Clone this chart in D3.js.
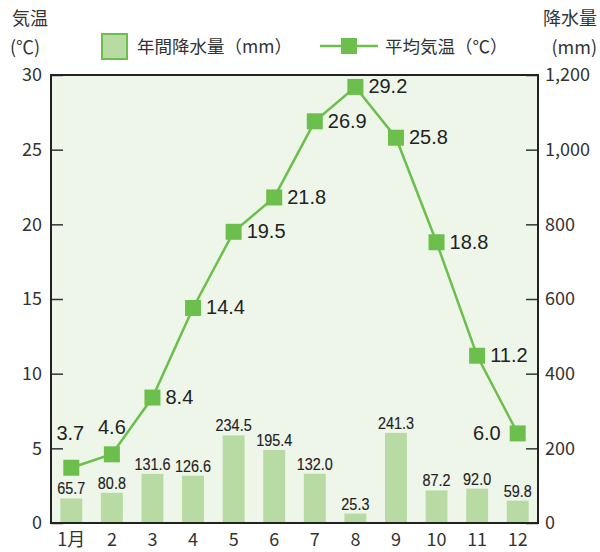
<!DOCTYPE html>
<html><head><meta charset="utf-8">
<script src="https://cdn.jsdelivr.net/npm/d3@7"></script>
<style>body{margin:0;background:#fff}svg{display:block}</style>
</head><body><svg id="c" width="600" height="552"></svg>
<script>
const months = ["1月","2","3","4","5","6","7","8","9","10","11","12"];
const precip = [65.7,80.8,131.6,126.6,234.5,195.4,132.0,25.3,241.3,87.2,92.0,59.8];
const temp = [3.7,4.6,8.4,14.4,19.5,21.8,26.9,29.2,25.8,18.8,11.2,6.0];
const tempTicks = [0,5,10,15,20,25,30];
const precipTicks = [0,200,400,600,800,1000,1200];

const svg = d3.select("#c");
const F = "'Noto Sans CJK JP', 'Noto Sans', sans-serif";
const FN = "'Liberation Sans', Arial, sans-serif";
const L = 51, R = 538, T = 75, B = 523;
const x = d3.scaleBand().domain(months).range([L, R]).paddingInner(0.46).paddingOuter(0.23);
const xc = d3.scalePoint().domain(months).range([L, R]).padding(0.5);
const yT = d3.scaleLinear().domain([0,30]).range([B, T]);
const yP = d3.scaleLinear().domain([0,1200]).range([B, T]);

svg.append("rect").attr("x",L).attr("y",T).attr("width",R-L).attr("height",B-T).attr("fill","#eef6ea");

// bars
svg.selectAll(".bar").data(precip).enter().append("rect")
  .attr("x",(d,i)=>x(months[i])).attr("width",x.bandwidth())
  .attr("y",d=>yP(d)).attr("height",d=>B-yP(d)).attr("fill","#b7dba3");
svg.selectAll(".bl").data(precip).enter().append("text")
  .attr("transform",(d,i)=>`translate(${xc(months[i])},${yP(d)-4}) scale(0.9,1)`)
  .attr("text-anchor","middle").attr("font-family",FN).attr("font-size",16)
  .attr("fill","#222").attr("stroke","#222").attr("stroke-width",0.15).text(d=>d.toFixed(1));

// axes
const gl = svg.append("g").attr("transform",`translate(${L},0)`)
  .call(d3.axisRight(yT).tickValues(tempTicks).tickSize(12).tickFormat(""));
const gr = svg.append("g").attr("transform",`translate(${R},0)`)
  .call(d3.axisLeft(yP).tickValues(precipTicks).tickSize(12).tickFormat(""));
[gl,gr].forEach(g=>{g.select(".domain").remove();g.selectAll("line").attr("stroke","#333").attr("stroke-width",1.5);});

svg.selectAll(".tl").data(tempTicks).enter().append("text")
  .attr("x",42).attr("y",d=>yT(d)).attr("dy","0.36em").attr("text-anchor","end")
  .attr("font-family",F).attr("font-size",18).attr("fill","#333").text(d=>d);
svg.selectAll(".tr").data(precipTicks).enter().append("text")
  .attr("x",545).attr("y",d=>yP(d)).attr("dy","0.36em").attr("text-anchor","start")
  .attr("font-family",F).attr("font-size",18).attr("fill","#333").text(d=>d3.format(",")(d));
svg.selectAll(".ml").data(months).enter().append("text")
  .attr("x",d=>xc(d)).attr("y",546).attr("text-anchor","middle")
  .attr("font-family",F).attr("font-size",18).attr("fill","#333").text(d=>d);

// line
const line = d3.line().x((d,i)=>xc(months[i])).y(d=>yT(d));
svg.append("path").datum(temp).attr("d",line).attr("fill","none").attr("stroke","#6cbf4c").attr("stroke-width",2.5);
svg.selectAll(".mk").data(temp).enter().append("rect")
  .attr("x",(d,i)=>xc(months[i])-8).attr("y",d=>yT(d)-8).attr("width",16).attr("height",16).attr("fill","#6cbf4c");
svg.selectAll(".vl").data(temp).enter().append("text")
  .attr("x",(d,i)=> i===0 ? xc(months[i])-1 : i===1 ? xc(months[i]) : i===11 ? xc(months[i])-17 : xc(months[i])+13)
  .attr("y",(d,i)=> i===0 ? yT(d)-28 : i===1 ? yT(d)-20 : yT(d)+6.5)
  .attr("text-anchor",(d,i)=> i<2 ? "middle" : i===11 ? "end" : "start")
  .attr("font-family",FN).attr("font-size",20).attr("fill","#222").text(d=>d.toFixed(1));

// border
svg.append("rect").attr("x",L).attr("y",T).attr("width",R-L).attr("height",B-T)
  .attr("fill","none").attr("stroke","#222").attr("stroke-width",2);

// titles
const tt = (t,xx,yy,a)=>svg.append("text").attr("x",xx).attr("y",yy).attr("text-anchor",a)
  .attr("font-family",F).attr("font-size",18).attr("fill","#333").text(t);
tt("気温",12,25,"start"); tt("(℃)",10,54,"start");
tt("降水量",597,25,"end"); tt("(mm)",597,54,"end");

// legend
svg.append("rect").attr("x",102).attr("y",34).attr("width",25).attr("height",25)
  .attr("fill","#b7dba3").attr("stroke","#6cbf4c").attr("stroke-width",2);
svg.append("text").attr("x",137).attr("y",53).attr("font-family",F).attr("font-size",17.5).attr("fill","#333").text("年間降水量（mm）");
svg.append("line").attr("x1",320).attr("x2",378).attr("y1",46).attr("y2",46).attr("stroke","#6cbf4c").attr("stroke-width",2.5);
svg.append("rect").attr("x",341).attr("y",38).attr("width",16).attr("height",16).attr("fill","#6cbf4c");
svg.append("text").attr("x",385).attr("y",53).attr("font-family",F).attr("font-size",17.5).attr("fill","#333").text("平均気温（℃）");
</script></body></html>
